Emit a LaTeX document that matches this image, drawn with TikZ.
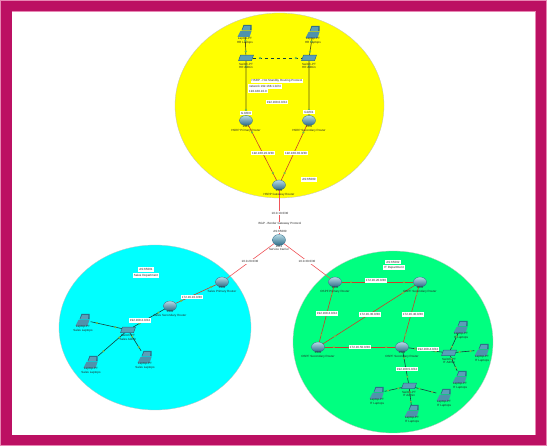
\documentclass[tikz,border=0pt]{standalone}
\usepackage{fontspec}
\setmainfont{Liberation Sans}
\usetikzlibrary{shapes.geometric}
\definecolor{framered}{HTML}{BC1063}
\definecolor{framepale}{HTML}{E887B4}
\definecolor{zoneyellow}{HTML}{FFFF00}
\definecolor{zonecyan}{HTML}{00FFFF}
\definecolor{zonegreen}{HTML}{00FF80}
\definecolor{icontop}{HTML}{86C3D6}
\definecolor{iconmid}{HTML}{5A9FB8}
\definecolor{iconside}{HTML}{2C6A86}
\definecolor{portgreen}{HTML}{6CC24A}
\definecolor{copperline}{HTML}{14403C}
\definecolor{trunkline}{HTML}{5E5A10}
\definecolor{serialline}{HTML}{C8402A}
\definecolor{wanline}{HTML}{F0555A}
\tikzset{
	zone/.style={ellipse,draw=black!25,line width=.3pt,inner sep=0pt},
	router/.style={ellipse,inner sep=0pt,minimum width=13pt,minimum height=10pt,draw=iconside,line width=.3pt,top color=icontop!60!white,bottom color=iconside},
	switchbox/.style={rectangle,inner sep=0pt,minimum width=13pt,minimum height=5.5pt,draw=iconside,line width=.5pt,fill=iconmid,xslant=.35},
	laptop/.style={rectangle,inner sep=0pt,minimum width=15pt,minimum height=12pt,
		path picture={
			\fill[iconside] ([xshift=4pt,yshift=.5pt]path picture bounding box.west) -- ([xshift=-1pt,yshift=.5pt]path picture bounding box.east) -- ([xshift=-1pt]path picture bounding box.north east) -- ([xshift=6pt]path picture bounding box.north west) -- cycle;
			\fill[iconmid] ([xshift=4.8pt,yshift=1pt]path picture bounding box.west) -- ([xshift=-2.4pt,yshift=1pt]path picture bounding box.east) -- ([xshift=-2pt,yshift=-.8pt]path picture bounding box.north east) -- ([xshift=6.8pt,yshift=-.8pt]path picture bounding box.north west) -- cycle;
			\fill[iconmid!75!iconside] ([xshift=3pt]path picture bounding box.west) -- ([xshift=-1pt]path picture bounding box.east) -- ([xshift=-3pt]path picture bounding box.south east) -- (path picture bounding box.south west) -- cycle;
		}},
	devtext/.style={font=\fontsize{3}{3.6}\selectfont,align=center,inner sep=0pt,text=black!85},
	tag/.style={font=\fontsize{3}{3.6}\selectfont,fill=white,inner sep=1pt,align=left,text=black!85},
	copper/.style={line width=.6pt,draw=copperline},
	trunk/.style={line width=.7pt,draw=trunkline},
	serial/.style={line width=.6pt,draw=serialline},
	wan/.style={line width=.6pt,draw=wanline},
	portdot/.style={circle,fill=portgreen,inner sep=0pt,minimum size=2.4pt},
}
\begin{document}
\begin{tikzpicture}[x=1pt,y=-1pt]
	\useasboundingbox (0,0) rectangle (547,446);
	% frame
	\fill[framepale] (0,0) rectangle (547,446);
	\fill[framered] (1,1) rectangle (546,445);
	\fill[framepale] (11.5,11.5) rectangle (535.5,435.5);
	\fill[white] (12,12) rectangle (535,435);
	% zones
	\node[zone,fill=zoneyellow,minimum width=209pt,minimum height=185pt] (yellowzone) at (279.5,105.5) {};
	\node[zone,fill=zonecyan,minimum width=192pt,minimum height=165pt] (cyanzone) at (155,327.5) {};
	\node[zone,fill=zonegreen,minimum width=200pt,minimum height=182pt] (greenzone) at (393,342) {};
	% top zone devices
	\node[laptop] (laptopA) at (245,31) {};
	\node[laptop] (laptopB) at (313,32) {};
	\node[switchbox] (switchA) at (246,58) {};
	\node[switchbox] (switchB) at (309,58) {};
	\node[router] (routerA) at (246,120.5) {};
	\node[router] (routerB) at (309,120.5) {};
	\node[router] (routerTop) at (279,185) {};
	% middle
	\node[router,minimum height=11pt] (routerMid) at (279,240) {};
	% left zone devices
	\node[router] (routerL1) at (222,282) {};
	\node[router] (routerL2) at (170,306) {};
	\node[switchbox] (switchL) at (128,330) {};
	\node[laptop] (laptopL1) at (83,320) {};
	\node[laptop] (laptopL2) at (91,362) {};
	\node[laptop] (laptopL3) at (145,357) {};
	% right zone devices
	\node[router] (routerR1) at (335,282) {};
	\node[router] (routerR2) at (420,282) {};
	\node[router] (routerR3) at (318,347) {};
	\node[router] (routerR4) at (402,347) {};
	\node[switchbox] (switchR1) at (449,353) {};
	\node[switchbox] (switchR2) at (409,386) {};
	\node[laptop] (laptopR1) at (461,327) {};
	\node[laptop] (laptopR2) at (482,350) {};
	\node[laptop] (laptopR3) at (460,377) {};
	\node[laptop] (laptopR4) at (377,393) {};
	\node[laptop] (laptopR5) at (444,395) {};
	\node[laptop] (laptopR6) at (412,411) {};
	% connections
	\foreach \a/\b in {switchL/laptopL1,switchL/laptopL2,switchL/laptopL3,switchL/routerL2,routerR4/switchR1,routerR4/switchR2,switchR1/laptopR1,switchR1/laptopR2,switchR1/laptopR3,switchR2/laptopR4,switchR2/laptopR5,switchR2/laptopR6}
		\draw[copper] (\a) -- node[portdot,pos=.2]{} node[portdot,pos=.8]{} (\b);
	\foreach \a/\b in {laptopA/switchA,laptopB/switchB}
		\draw[trunk] (\a) -- node[portdot,pos=.2]{} node[portdot,pos=.8]{} (\b);
	\foreach \a/\b in {switchA/routerA,switchB/routerB}
		\draw[trunk] (\a) -- node[portdot,pos=.1]{} node[portdot,pos=.9]{} (\b);
	\draw[copperline,line width=.7pt,dashed] (switchA) -- node[portdot,pos=.15]{} node[portdot,pos=.87]{} (switchB);
	\foreach \a/\b in {routerA/routerTop,routerB/routerTop,routerL1/routerL2,routerR1/routerR2,routerR1/routerR3,routerR2/routerR3,routerR2/routerR4,routerR3/routerR4}
		\draw[serial] (\a) -- node[portdot,pos=.13]{} node[portdot,pos=.87]{} (\b);
	\foreach \a/\b in {routerTop/routerMid,routerMid/routerL1,routerMid/routerR1}
		\draw[wan] (\a) -- (\b);
	% device texts
	\node[devtext] (textLaptopA) at (245,40.5) {Laptop-PT\\HR Laptops};
	\node[devtext] (textLaptopB) at (313,41) {Laptop-PT\\HR Laptops};
	\node[devtext] (textSwitchA) at (246,66) {Switch-PT\\HR Admin};
	\node[devtext] (textSwitchB) at (309,66) {Switch-PT\\HR Admin};
	\node[devtext] (textRouterA) at (246,129) {1941\\HSRP Primary Router};
	\node[devtext] (textRouterB) at (309,129) {1941\\HSRP Secondary Router};
	\node[devtext] (textRouterTop) at (279,193) {1941\\HSRP Gateway Router};
	\node[devtext] (textRouterMid) at (279,248) {2911\\Service Carrier};
	\node[devtext] (textRouterL1) at (222,290) {1941\\Sales Primary Router};
	\node[devtext] (textRouterL2) at (170,314) {1941\\Sales Secondary Router};
	\node[devtext] (textSwitchL) at (128,337.5) {Switch-PT\\Sales Admin};
	\node[devtext] (textLaptopL1) at (83,329) {Laptop-PT\\Sales Laptops};
	\node[devtext] (textLaptopL2) at (91,371) {Laptop-PT\\Sales Laptops};
	\node[devtext] (textLaptopL3) at (145,366) {Laptop-PT\\Sales Laptops};
	\node[devtext] (textRouterR1) at (335,290) {1941\\OSPF Primary Router};
	\node[devtext] (textRouterR2) at (420,290) {1941\\OSPF Secondary Router};
	\node[devtext] (textRouterR3) at (318,354.5) {1941\\OSPF Secondary Router};
	\node[devtext] (textRouterR4) at (402,354.5) {1941\\OSPF Secondary Router};
	\node[devtext] (textSwitchR1) at (449,361) {Switch-PT\\IT Admin};
	\node[devtext] (textSwitchR2) at (409,394) {Switch-PT\\IT Admin};
	\node[devtext] (textLaptopR1) at (461,336) {Laptop-PT\\IT Laptops};
	\node[devtext] (textLaptopR2) at (482,359) {Laptop-PT\\IT Laptops};
	\node[devtext] (textLaptopR3) at (460,386) {Laptop-PT\\IT Laptops};
	\node[devtext] (textLaptopR4) at (377,402) {Laptop-PT\\IT Laptops};
	\node[devtext] (textLaptopR5) at (444,404) {Laptop-PT\\IT Laptops};
	\node[devtext] (textLaptopR6) at (412,420) {Laptop-PT\\IT Laptops};
	% address and protocol tags
	\node[tag] (tagHsrpA) at (277,81) {HSRP - Hot Standby Routing Protocol};
	\node[tag] (tagHsrpB) at (265,86.5) {network 192.168.1.0/24};
	\node[tag] (tagHsrpC) at (258,91) {192.168.10.0};
	\node[tag] (tagLan) at (277,102) {192.168.0.0/24};
	\node[tag] (tagVlanA) at (246,113) {G 0/0/0};
	\node[tag] (tagVlanB) at (309,112) {G0/0/1};
	\node[tag] (tagSerialA) at (263,153) {192.168.20.0/30};
	\node[tag] (tagSerialB) at (296,153) {192.168.30.0/30};
	\node[tag] (tagAs) at (309,179.5) {AS:65000};
	\node[tag] (tagTopWan) at (280,213) {10.0.10.0/30};
	\node[tag] (tagBgp) at (280,224) {BGP - Border Gateway Protocol};
	\node[tag] (tagAsMid) at (280,231) {AS:65000};
	\node[tag] (tagLeftWan) at (250,261.5) {10.0.20.0/30};
	\node[tag] (tagRightWan) at (307,261.5) {10.0.30.0/30};
	\node[tag] (tagSalesA) at (146,269.5) {AS:65001};
	\node[tag] (tagSalesB) at (146,275.5) {Sales Department};
	\node[tag] (tagLeftSerial) at (192,297) {172.16.10.0/30};
	\node[tag] (tagLeftLan) at (140,320.5) {192.168.2.0/24};
	\node[tag] (tagItA) at (393,262) {AS:65002};
	\node[tag] (tagItB) at (394,267.5) {IT Department};
	\node[tag] (tagOspfA) at (376,280.5) {172.16.20.0/30};
	\node[tag] (tagOspfB) at (327,313.5) {192.168.3.0/24};
	\node[tag] (tagOspfC) at (370,314.5) {172.16.30.0/30};
	\node[tag] (tagOspfD) at (413,314.5) {172.16.40.0/30};
	\node[tag] (tagOspfE) at (360,347) {172.16.50.0/30};
	\node[tag] (tagItLanA) at (428,349) {192.168.4.0/24};
	\node[tag] (tagItLanB) at (407,369) {192.168.5.0/24};
\end{tikzpicture}
\end{document}
